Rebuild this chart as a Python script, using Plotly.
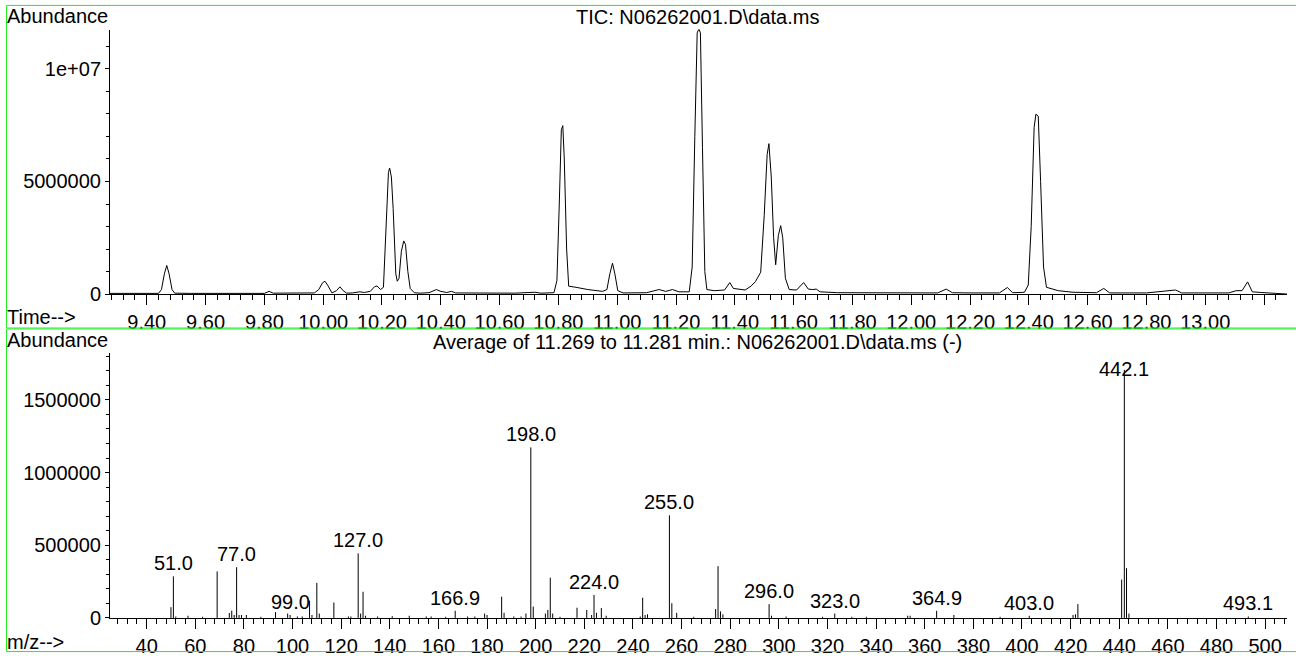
import plotly.graph_objects as go

W, H = 1296, 666

# TIC chromatogram (retention time in min, abundance)
tic_time = [9.275, 9.30, 9.44, 9.450, 9.460, 9.468, 9.476, 9.486, 9.495, 9.55, 9.60, 9.64, 9.70,
            9.80, 9.816, 9.83, 9.90, 9.97, 9.985, 9.998, 10.006, 10.015, 10.03, 10.045, 10.057,
            10.068, 10.08, 10.10, 10.125, 10.14, 10.16, 10.175, 10.183, 10.195, 10.205, 10.213,
            10.222, 10.226, 10.232, 10.238, 10.247, 10.252, 10.258, 10.266, 10.274, 10.280,
            10.288, 10.296, 10.31, 10.33, 10.36, 10.385, 10.40, 10.42, 10.437, 10.45, 10.55,
            10.60, 10.65, 10.72, 10.74, 10.785, 10.795, 10.803, 10.810, 10.815, 10.820, 10.828,
            10.835, 10.86, 10.90, 10.95, 10.965, 10.975, 10.984, 10.992, 11.002, 11.02, 11.10,
            11.142, 11.165, 11.188, 11.21, 11.245, 11.255, 11.264, 11.272, 11.278, 11.283,
            11.290, 11.298, 11.305, 11.33, 11.365, 11.383, 11.395, 11.41, 11.435, 11.455, 11.47,
            11.488, 11.500, 11.510, 11.516, 11.524, 11.532, 11.539, 11.548, 11.556, 11.563,
            11.572, 11.585, 11.61, 11.634, 11.650, 11.665, 11.677, 11.69, 11.75, 11.84, 11.90,
            12.00, 12.09, 12.119, 12.14, 12.20, 12.30, 12.327, 12.345, 12.385, 12.398, 12.408,
            12.418, 12.424, 12.432, 12.440, 12.450, 12.460, 12.50, 12.55, 12.63, 12.655, 12.675,
            12.80, 12.899, 12.92, 13.08, 13.105, 13.125, 13.144, 13.160, 13.19, 13.25, 13.278]
tic_abund = [0.03e6, 0.03e6, 0.03e6, 0.2e6, 0.9e6, 1.27e6, 0.9e6, 0.2e6, 0.04e6, 0.03e6, 0.04e6,
             0.05e6, 0.03e6, 0.03e6, 0.12e6, 0.04e6, 0.05e6, 0.05e6, 0.2e6, 0.5e6, 0.57e6, 0.4e6,
             0.05e6, 0.15e6, 0.32e6, 0.15e6, 0.04e6, 0.05e6, 0.1e6, 0.07e6, 0.12e6, 0.33e6,
             0.36e6, 0.2e6, 0.3e6, 2.5e6, 5.4e6, 5.6e6, 5.2e6, 3.8e6, 0.9e6, 0.57e6, 0.7e6,
             1.9e6, 2.36e6, 2.2e6, 1.0e6, 0.25e6, 0.06e6, 0.04e6, 0.06e6, 0.2e6, 0.12e6, 0.07e6,
             0.12e6, 0.05e6, 0.04e6, 0.06e6, 0.04e6, 0.08e6, 0.04e6, 0.06e6, 0.6e6, 4.0e6,
             7.3e6, 7.48e6, 6.0e6, 2.0e6, 0.35e6, 0.3e6, 0.2e6, 0.12e6, 0.2e6, 0.9e6, 1.37e6,
             0.9e6, 0.15e6, 0.05e6, 0.06e6, 0.2e6, 0.12e6, 0.2e6, 0.1e6, 0.1e6, 1.2e6, 7.0e6,
             11.6e6, 11.78e6, 11.6e6, 6.5e6, 1.0e6, 0.2e6, 0.15e6, 0.18e6, 0.51e6, 0.25e6,
             0.22e6, 0.18e6, 0.35e6, 0.55e6, 0.97e6, 3.5e6, 6.2e6, 6.68e6, 5.2e6, 2.5e6, 1.3e6,
             2.6e6, 3.04e6, 2.5e6, 0.7e6, 0.2e6, 0.18e6, 0.51e6, 0.22e6, 0.2e6, 0.22e6, 0.1e6,
             0.06e6, 0.05e6, 0.06e6, 0.04e6, 0.05e6, 0.22e6, 0.06e6, 0.05e6, 0.05e6, 0.29e6,
             0.06e6, 0.08e6, 0.4e6, 3.0e6, 7.4e6, 7.99e6, 7.9e6, 5.0e6, 1.2e6, 0.3e6, 0.15e6,
             0.08e6, 0.06e6, 0.25e6, 0.05e6, 0.05e6, 0.18e6, 0.05e6, 0.05e6, 0.15e6, 0.15e6,
             0.54e6, 0.1e6, 0.07e6, 0.03e6, 0.0]

# mass spectrum (m/z, abundance)
ms_mz = [50, 51.0, 52, 57, 63, 69, 74, 75, 76, 77.0, 78, 79, 81, 87, 93, 98, 99.0, 102, 104, 107,
         108, 110, 111, 117, 123, 124, 127.0, 128, 129, 130, 135, 141, 148, 155, 157, 163, 166.9,
         172, 175, 179, 180, 186, 187, 191, 194, 196, 198.0, 199, 204, 205, 206, 207, 210, 217,
         221, 223, 224.0, 225, 227, 229, 243, 244, 245, 246, 255.0, 256, 258, 265, 274, 275,
         276, 277, 296.0, 297, 303, 318, 323.0, 330, 336, 353, 354, 364.9, 372, 391, 403.0,
         421, 422, 423, 441, 442.1, 443, 444, 493.1]
ms_abund = [74e3, 286e3, 10e3, 15e3, 8e3, 320e3, 34e3, 50e3, 20e3, 349e3, 20e3, 20e3, 20e3, 8e3,
            40e3, 30e3, 20e3, 10e3, 10e3, 119e3, 20e3, 241e3, 30e3, 106e3, 10e3, 10e3, 444e3,
            30e3, 180e3, 15e3, 10e3, 12e3, 15e3, 10e3, 10e3, 8e3, 49e3, 10e3, 10e3, 30e3, 20e3,
            146e3, 35e3, 10e3, 10e3, 30e3, 1173e3, 78e3, 30e3, 55e3, 277e3, 30e3, 8e3, 70e3,
            55e3, 20e3, 158e3, 35e3, 68e3, 15e3, 10e3, 139e3, 20e3, 25e3, 706e3, 101e3, 35e3,
            8e3, 61e3, 356e3, 45e3, 25e3, 95e3, 15e3, 10e3, 8e3, 30e3, 8e3, 8e3, 15e3, 15e3,
            49e3, 20e3, 8e3, 15e3, 20e3, 25e3, 95e3, 264e3, 1707e3, 342e3, 30e3, 10e3]
ms_labels = [51.0, 77.0, 99.0, 127.0, 166.9, 198.0, 224.0, 255.0, 296.0, 323.0, 364.9, 403.0,
             442.1, 493.1]

time_ticks = [9.4, 9.6, 9.8, 10.0, 10.2, 10.4, 10.6, 10.8, 11.0, 11.2, 11.4, 11.6, 11.8, 12.0,
              12.2, 12.4, 12.6, 12.8, 13.0, 13.2]
time_ticktext = ["9.40", "9.60", "9.80", "10.00", "10.20", "10.40", "10.60", "10.80", "11.00",
                 "11.20", "11.40", "11.60", "11.80", "12.00", "12.20", "12.40", "12.60",
                 "12.80", "13.00", ""]
mz_ticks = list(range(40, 501, 20))
tic_yticks = [0, 5000000, 10000000]
tic_yticktext = ["0", "5000000", "1e+07"]
ms_yticks = [0, 500000, 1000000, 1500000]
ms_yticktext = ["0", "500000", "1000000", "1500000"]

FONT = "Arial, Liberation Sans, sans-serif"
FS = 20


def px_x(p):
    return p / W


def px_y(p):
    return 1 - p / H


fig = go.Figure()
fig.add_trace(go.Scatter(x=tic_time, y=tic_abund, mode="lines", line=dict(color="black", width=1),
                         xaxis="x", yaxis="y", hoverinfo="x+y"))

# stick spectrum: one vertical segment per ion
seg_x, seg_y = [], []
for m, a in zip(ms_mz, ms_abund):
    seg_x += [m, m, None]
    seg_y += [0, a, None]
fig.add_trace(go.Scatter(x=seg_x, y=seg_y, mode="lines", line=dict(color="black", width=1),
                         xaxis="x2", yaxis="y2", hoverinfo="skip"))

ms_ymax = 1.822e6
ms_plot_h = 628.3 - 359
for lab in ms_labels:
    a = ms_abund[ms_mz.index(lab)]
    shift = 0
    # keep label inside the plot top like the data system does
    top_px = (ms_ymax - a) / ms_ymax * ms_plot_h
    if top_px < 25:
        shift = -(25 - top_px) - 4
    fig.add_annotation(x=lab, y=a, xref="x2", yref="y2", text=f"{lab:.1f}", showarrow=False,
                       yanchor="bottom", xanchor="center", yshift=shift,
                       font=dict(family=FONT, size=FS, color="black"))

ax_common = dict(showline=True, linecolor="black", linewidth=1, ticks="outside", tickcolor="black",
                 tickwidth=1, showgrid=False, zeroline=False,
                 tickfont=dict(family=FONT, size=FS, color="black"))
xdom = [px_x(110), px_x(1287)]

fig.update_layout(
    width=W, height=H, margin=dict(l=0, r=0, t=0, b=0), autosize=False,
    paper_bgcolor="white", plot_bgcolor="white", showlegend=False,
    xaxis=dict(domain=xdom, anchor="y", range=[9.275, 13.278], tickmode="array",
               tickvals=time_ticks, ticktext=time_ticktext, ticklen=10,
               minor=dict(tickmode="linear", tick0=9.4, dtick=0.04, ticklen=5, tickcolor="black",
                          ticks="outside"),
               **ax_common),
    yaxis=dict(domain=[px_y(299), px_y(30)], anchor="x", range=[0, 11.75e6], tickmode="array",
               tickvals=tic_yticks, ticktext=tic_yticktext, ticklen=4,
               minor=dict(tickmode="linear", tick0=0, dtick=1e6, ticklen=3, tickcolor="black",
                          ticks="outside"),
               **ax_common),
    xaxis2=dict(domain=xdom, anchor="y2", range=[24.93, 509], tickmode="array",
                tickvals=mz_ticks, ticktext=[str(v) for v in mz_ticks], ticklen=10,
                minor=dict(tickmode="linear", tick0=0, dtick=4, ticklen=5, tickcolor="black",
                           ticks="outside"),
                **ax_common),
    yaxis2=dict(domain=[px_y(628.3), px_y(359)], anchor="x2", range=[0, ms_ymax],
                tickmode="array", tickvals=ms_yticks, ticktext=ms_yticktext, ticklen=4,
                minor=dict(tickmode="linear", tick0=0, dtick=1e5, ticklen=3, tickcolor="black",
                           ticks="outside"),
                **ax_common),
)

# green panel frames
for y0, y1 in [(5.5, 333.5), (334.5, 662.5)]:
    fig.add_shape(type="rect", xref="paper", yref="paper", x0=px_x(6.5), x1=px_x(1300),
                  y0=px_y(y1), y1=px_y(y0), line=dict(color="#22ee22", width=1))

texts = [
    ("Abundance", 5, 16, "left"),
    ("TIC: N06262001.D\\data.ms", 697.5, 17.5, "center"),
    ("Time-->", 5, 322.5, "left"),
    ("Abundance", 5, 346, "left"),
    ("Average of 11.269 to 11.281 min.: N06262001.D\\data.ms (-)", 698, 347.3, "center"),
    ("m/z-->", 5, 652.3, "left"),
]
for t, x, y, anc in texts:
    fig.add_annotation(x=px_x(x), y=px_y(y), xref="paper", yref="paper", text=t, showarrow=False,
                       xanchor=anc, yanchor="middle", font=dict(family=FONT, size=FS, color="black"))

page_fix = ("var s=document.createElement('style');"
            "s.textContent='html,body{margin:0;padding:0;}';"
            "document.head.appendChild(s);")
fig.write_html("out.html", config={"displayModeBar": False}, post_script=page_fix)
